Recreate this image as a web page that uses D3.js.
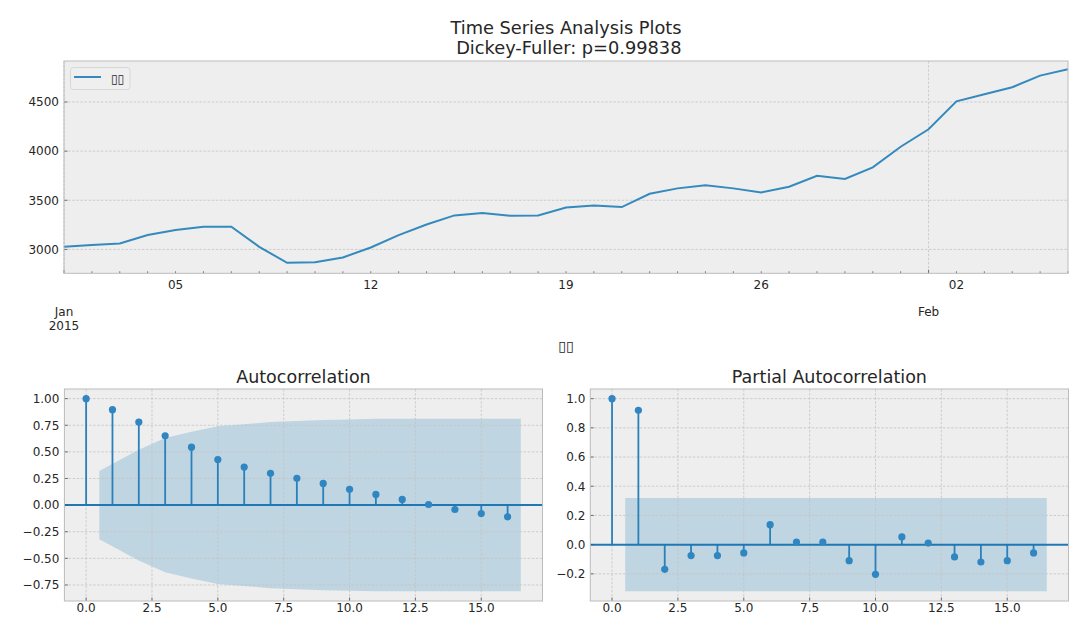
<!DOCTYPE html>
<html><head><meta charset="utf-8">
<script src="https://cdn.jsdelivr.net/npm/d3@7"></script>
<style>
body{margin:0;background:#fff;}
svg text{font-family:"DejaVu Sans",sans-serif;fill:#262626;white-space:pre;}
</style></head><body>
<svg id="chart" width="1087" height="633"></svg>
<script>
// ---------- data ----------
const dates = ["2015-01-01","2015-01-02","2015-01-03","2015-01-04","2015-01-05","2015-01-06","2015-01-07",
  "2015-01-08","2015-01-09","2015-01-10","2015-01-11","2015-01-12","2015-01-13","2015-01-14","2015-01-15",
  "2015-01-16","2015-01-17","2015-01-18","2015-01-19","2015-01-20","2015-01-21","2015-01-22","2015-01-23",
  "2015-01-24","2015-01-25","2015-01-26","2015-01-27","2015-01-28","2015-01-29","2015-01-30","2015-01-31",
  "2015-02-01","2015-02-02","2015-02-03","2015-02-04","2015-02-05","2015-02-06"];
const values = [3026,3044,3061,3146,3197,3230,3230,3026,2864,2870,2918,3020,3146,3254,3346,3370,3342,3346,
  3426,3448,3431,3566,3621,3652,3621,3580,3638,3750,3716,3835,4045,4222,4507,4578,4650,4768,4833];
const seriesName = "▯▯";
const xAxisLabel = "▯▯";
const titleLines = ["Time Series Analysis Plots", " Dickey-Fuller: p=0.99838"];
const yTicksTop = [3000, 3500, 4000, 4500];
const yDomainTop = [2757, 4917];
const minorDayLabels = ["2015-01-05","2015-01-12","2015-01-19","2015-01-26","2015-02-02"];
const majorMonthTicks = [{d:"2015-01-01", l1:"Jan", l2:"2015"}, {d:"2015-02-01", l1:"Feb", l2:""}];

const lags = [0,1,2,3,4,5,6,7,8,9,10,11,12,13,14,15,16];
const acfValues = [1.0,0.896,0.78,0.651,0.544,0.428,0.358,0.299,0.252,0.204,0.148,0.10,0.053,0.006,-0.041,-0.079,-0.11];
const acfBand = [0.32,0.52,0.63,0.69,0.74,0.76,0.78,0.79,0.80,0.805,0.81,0.81,0.81,0.81,0.81,0.81]; // lags 1..16
const pacfValues = [1.0,0.92,-0.169,-0.075,-0.075,-0.057,0.137,0.018,0.018,-0.11,-0.203,0.053,0.011,-0.084,-0.119,-0.11,-0.057];
const pacfBand = [0.32,0.32,0.32,0.32,0.32,0.32,0.32,0.32,0.32,0.32,0.32,0.32,0.32,0.32,0.32,0.32];
const lagTicks = [0,2.5,5,7.5,10,12.5,15];
const acfYTicks = [-0.75,-0.5,-0.25,0,0.25,0.5,0.75,1.0];
const pacfYTicks = [-0.2,0,0.2,0.4,0.6,0.8,1.0];

// ---------- style ----------
const BG = "#eeeeee", EDGE = "#bcbcbc", GRID = "#c4c4c4", C0 = "#348ABD", STEM = "#2a80bb", ZL = "#1f77b4";
const svg = d3.select("#chart");
const parse = d3.utcParse("%Y-%m-%d");

function frame(g, box, id) {
  g.append("rect").attr("x", box.l).attr("y", box.t).attr("width", box.r - box.l).attr("height", box.b - box.t).attr("fill", BG);
  svg.append("clipPath").attr("id", id).append("rect").attr("x", box.l).attr("y", box.t).attr("width", box.r - box.l).attr("height", box.b - box.t);
}
function border(g, box) {
  g.append("rect").attr("x", box.l).attr("y", box.t).attr("width", box.r - box.l).attr("height", box.b - box.t)
    .attr("fill", "none").attr("stroke", EDGE).attr("stroke-width", 1);
}
function gridLine(g, x1, y1, x2, y2) {
  g.append("line").attr("x1", x1).attr("y1", y1).attr("x2", x2).attr("y2", y2)
    .attr("stroke", GRID).attr("stroke-width", 0.8).attr("stroke-dasharray", "2.5,1.6");
}
function tick(g, x1, y1, x2, y2) {
  g.append("line").attr("x1", x1).attr("y1", y1).attr("x2", x2).attr("y2", y2).attr("stroke", "#555").attr("stroke-width", 0.8);
}

// ---------- titles ----------
titleLines.forEach((t, i) => {
  svg.append("text").attr("x", 566).attr("y", 33.5 + i * 20).attr("text-anchor", "middle").attr("font-size", 17.8).text(t);
});

// ---------- top time-series panel ----------
{
  const box = {l: 64, r: 1068, t: 61, b: 273.3};
  const g = svg.append("g");
  frame(g, box, "clipTop");
  const pd = dates.map(parse);
  const x = d3.scaleUtc().domain(d3.extent(pd)).range([box.l, box.r]);
  const y = d3.scaleLinear().domain(yDomainTop).range([box.b, box.t]);
  yTicksTop.forEach(v => gridLine(g, box.l, y(v), box.r, y(v)));
  majorMonthTicks.forEach(m => { const xx = x(parse(m.d)); gridLine(g, xx, box.t, xx, box.b); });
  const line = d3.line().x((d, i) => x(pd[i])).y(d => y(d));
  g.append("path").datum(values).attr("d", line).attr("fill", "none").attr("stroke", C0)
    .attr("stroke-width", 2).attr("clip-path", "url(#clipTop)");
  // ticks
  const days = d3.utcDay.range(pd[0], d3.utcDay.offset(pd[pd.length - 1], 1));
  const majors = majorMonthTicks.map(m => +parse(m.d));
  days.forEach(d => {
    const xx = x(d);
    const major = majors.includes(+d);
    tick(g, xx, box.b, xx, box.b - (major ? 3.5 : 2));
  });
  yTicksTop.forEach(v => {
    tick(g, box.l, y(v), box.l + 3.5, y(v));
    g.append("text").attr("x", box.l - 5).attr("y", y(v) + 4.3).attr("text-anchor", "end").attr("font-size", 12).text(v);
  });
  minorDayLabels.forEach(d => {
    g.append("text").attr("x", x(parse(d))).attr("y", box.b + 16).attr("text-anchor", "middle").attr("font-size", 12)
      .text(d3.utcFormat("%d")(parse(d)));
  });
  majorMonthTicks.forEach(m => {
    const xx = x(parse(m.d));
    g.append("text").attr("x", xx).attr("y", box.b + 43).attr("text-anchor", "middle").attr("font-size", 12).text(m.l1);
    if (m.l2) g.append("text").attr("x", xx).attr("y", box.b + 57).attr("text-anchor", "middle").attr("font-size", 12).text(m.l2);
  });
  g.append("text").attr("x", (box.l + box.r) / 2).attr("y", 351).attr("text-anchor", "middle").attr("font-size", 14).text(xAxisLabel);
  // legend
  g.append("rect").attr("x", 70.5).attr("y", 67.5).attr("width", 59.5).attr("height", 22).attr("rx", 3)
    .attr("fill", "#efefef").attr("stroke", "#d0d0d0").attr("stroke-width", 0.8);
  g.append("line").attr("x1", 74).attr("x2", 101).attr("y1", 77).attr("y2", 77).attr("stroke", C0).attr("stroke-width", 2);
  g.append("text").attr("x", 111).attr("y", 82.5).attr("font-size", 12).text(seriesName);
  border(g, box);
}

// ---------- correlation panels ----------
function corrPanel(box, id, title, vals, band, yTicks, fmt) {
  const g = svg.append("g");
  frame(g, box, id);
  const bandX = band.map((b, i) => i === 0 ? lags[1] - 0.5 : (i === band.length - 1 ? lags[i + 1] + 0.5 : lags[i + 1]));
  const xMin = 0, xMax = d3.max(bandX);
  const yMin = d3.min([...vals, ...band.map(b => -b)]), yMax = d3.max([...vals, ...band]);
  const px = (xMax - xMin) * 0.05, py = (yMax - yMin) * 0.05;
  const x = d3.scaleLinear().domain([xMin - px, xMax + px]).range([box.l, box.r]);
  const y = d3.scaleLinear().domain([yMin - py, yMax + py]).range([box.b, box.t]);
  const area = d3.area().x((d, i) => x(bandX[i])).y0(d => y(-d)).y1(d => y(d));
  g.append("path").datum(band).attr("d", area).attr("fill", C0).attr("fill-opacity", 0.25).attr("clip-path", `url(#${id})`);
  lagTicks.forEach(v => gridLine(g, x(v), box.t, x(v), box.b));
  yTicks.forEach(v => gridLine(g, box.l, y(v), box.r, y(v)));
  const cg = g.append("g").attr("clip-path", `url(#${id})`);
  cg.selectAll("line.stem").data(vals).join("line").attr("class", "stem")
    .attr("x1", (d, i) => x(lags[i])).attr("x2", (d, i) => x(lags[i]))
    .attr("y1", y(0)).attr("y2", d => y(d)).attr("stroke", STEM).attr("stroke-width", 1.8);
  cg.append("line").attr("x1", box.l).attr("x2", box.r).attr("y1", y(0)).attr("y2", y(0)).attr("stroke", ZL).attr("stroke-width", 2);
  cg.selectAll("circle").data(vals).join("circle").attr("cx", (d, i) => x(lags[i])).attr("cy", d => y(d))
    .attr("r", 3.6).attr("fill", "#2f86c0");
  lagTicks.forEach(v => {
    tick(g, x(v), box.b, x(v), box.b - 3.5);
    g.append("text").attr("x", x(v)).attr("y", box.b + 11).attr("text-anchor", "middle").attr("font-size", 12).text(d3.format(".1f")(v));
  });
  yTicks.forEach(v => {
    tick(g, box.l, y(v), box.l + 3.5, y(v));
    g.append("text").attr("x", box.l - 5).attr("y", y(v) + 4.3).attr("text-anchor", "end").attr("font-size", 12).text(d3.format(fmt)(v));
  });
  g.append("text").attr("x", (box.l + box.r) / 2).attr("y", 382.5).attr("text-anchor", "middle").attr("font-size", 17.5).text(title);
  border(g, box);
}
corrPanel({l: 64.4, r: 542.5, t: 389, b: 601}, "clipAcf", "Autocorrelation", acfValues, acfBand, acfYTicks, ".2f");
corrPanel({l: 590.3, r: 1068.5, t: 389, b: 601}, "clipPacf", "Partial Autocorrelation", pacfValues, pacfBand, pacfYTicks, ".1f");
</script>
</body></html>
